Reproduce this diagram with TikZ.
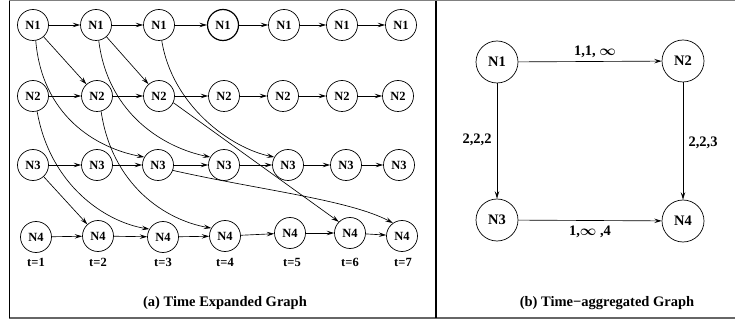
\documentclass[tikz,border=0pt]{standalone}
\usepackage{fontspec}
\setmainfont{Liberation Serif}
\usetikzlibrary{arrows.meta}
\begin{document}
\begin{tikzpicture}[x=1pt,y=-1pt,
  tn/.style={circle,draw,line width=0.7pt,minimum size=31pt,inner sep=0pt,font=\fontsize{12.5}{12.5}\selectfont\bfseries},
  bn/.style={circle,draw,line width=0.7pt,minimum size=42pt,inner sep=0pt,font=\fontsize{14.5}{14.5}\selectfont\bfseries},
  ed/.style={line width=0.65pt,-{Stealth[length=7.5pt,width=4.5pt,inset=3pt]}},
  tl/.style={font=\fontsize{12.5}{12.5}\selectfont\bfseries},
  el/.style={font=\fontsize{14.5}{14.5}\selectfont\bfseries\boldmath},
  captext/.style={font=\fontsize{14.5}{14.5}\selectfont\bfseries}]
\useasboundingbox (0,0) rectangle (735,320);
% frame
\draw[gray,line width=1pt] (9,1) -- (735,1);
\draw[gray!80!black,line width=1.6pt] (9,318) -- (735,318);
\draw[black,line width=1pt] (9,1) -- (9,318);
\draw[black,line width=1.2pt] (436,1) -- (436,318);
% row N1
\foreach \i/\x in {1/33,2/96,3/159,5/284,6/342,7/401}
  \node[tn] (a\i) at (\x,25) {N1};
\node[tn,line width=1.2pt] (a4) at (223,25) {N1};
% row N2
\foreach \i/\x in {1/33,2/97,3/159,4/224,5/283,6/342,7/398}
  \node[tn] (b\i) at (\x,96) {N2};
% row N3
\foreach \i/\x in {1/33,2/97,3/158,4/224,5/288,6/346,7/399}
  \node[tn] (c\i) at (\x,165) {N3};
% row N4
\foreach \i/\x/\y in {1/36/237,2/98/236,3/163/237,4/225/236,5/290/233,6/350/233,7/402/236}
  \node[tn] (d\i) at (\x,\y) {N4};
% time labels
\foreach \i/\x in {1/36,2/98,3/163,4/225,5/292,6/350,7/403}
  \node[tl] (t\i) at (\x,262) {t=\i};
% horizontal arrows
\foreach \r in {a,b,c,d}{
  \foreach \i [count=\j from 2] in {1,...,6}
    \draw[ed] (\r\i) -- (\r\j);
}
% diagonal arrows
\draw[ed] (a1) -- (b2);
\draw[ed] (a2) -- (b3);
\draw[ed] (c1) -- (d2);
\draw[ed] (b3.-25) -- (d6.135);
\draw[ed] (c3.-20) .. controls (260,190) and (350,200) .. (d7.125);
% curved arrows
\draw[ed] (a1.-80) .. controls (42,115) and (95,148) .. (c3.150);
\draw[ed] (a2.-80) .. controls (108,115) and (165,148) .. (c4.150);
\draw[ed] (a3.-80) .. controls (172,105) and (230,148) .. (c5.150);
\draw[ed] (b1.-75) .. controls (50,185) and (105,222) .. (d3.150);
\draw[ed] (b2.-75) .. controls (112,185) and (165,220) .. (d4.150);
% right panel
\node[bn] (p1) at (497,62) {N1};
\node[bn] (p2) at (683,61) {N2};
\node[bn] (p3) at (497,220) {N3};
\node[bn] (p4) at (683,221) {N4};
\draw[ed] (p1) -- (p2);
\draw[ed] (p1) -- (p3);
\draw[ed] (p2) -- (p4);
\draw[ed] (p3) -- (p4);
\node[el] (l12) at (595,52) {1,1, $\infty$};
\node[el] (l13) at (477,140) {2,2,2};
\node[el] (l24) at (703,143) {2,2,3};
\node[el] (l34) at (590,232) {1,$\infty$ ,4};
% captions
\node[captext] (ca) at (225,303) {(a) Time Expanded Graph};
\node[captext] (cb) at (607,303) {(b) Time−aggregated Graph};
\end{tikzpicture}
\end{document}
